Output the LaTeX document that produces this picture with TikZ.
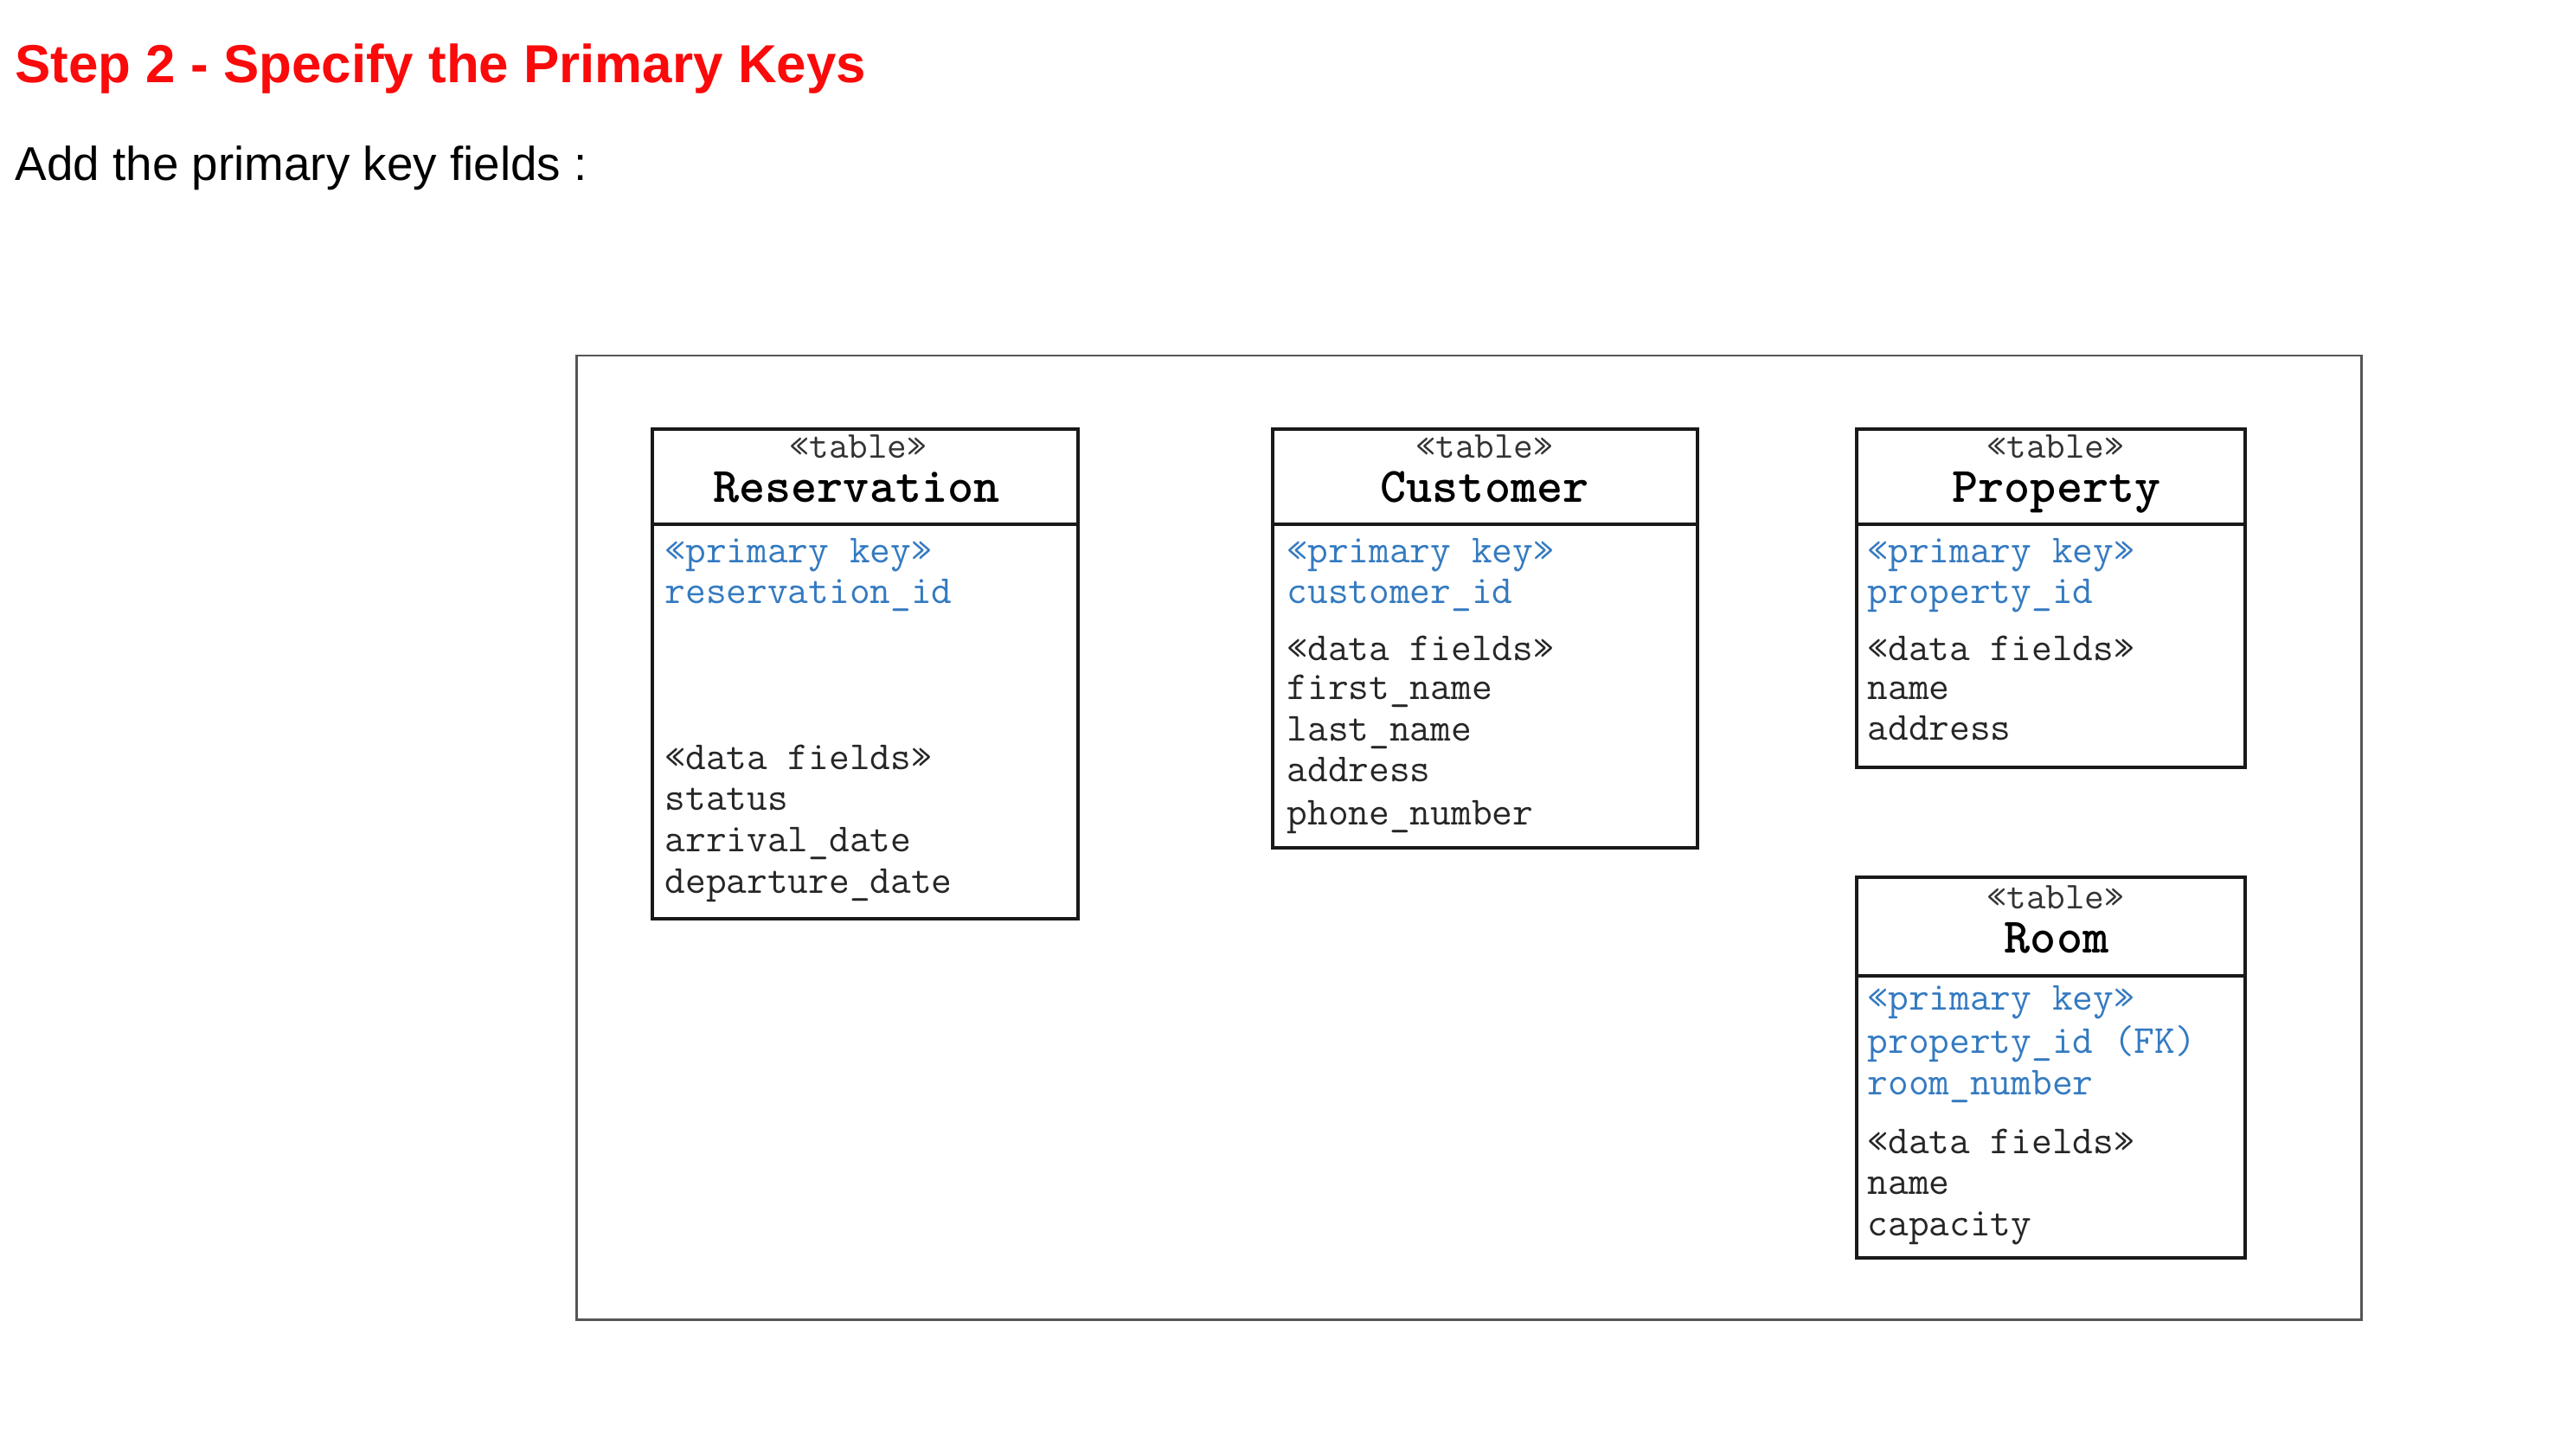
\documentclass[tikz,border=0pt]{standalone}
\usepackage{fontspec}
\setsansfont{Liberation Sans}
\usepackage{xcolor}
\usepackage{tikz}
\usetikzlibrary{positioning}

\definecolor{pkblue}{RGB}{52,122,192}
\definecolor{stepred}{RGB}{250,10,10}
\definecolor{framegray}{RGB}{85,85,85}

\begin{document}
\begin{tikzpicture}[
        tblhead/.style={rectangle, draw=black!90, line width=0.9pt, inner sep=0pt, outer sep=0pt, minimum height=1.1cm, anchor=north west},
        tblbody/.style={rectangle, draw=black!90, line width=0.9pt, inner sep=0pt, outer sep=0pt},
        stereo/.style={anchor=base, inner sep=0pt, text=black!80, font=\ttfamily\fontsize{12.5}{14}\selectfont},
        tname/.style={anchor=base, inner sep=0pt, font=\ttfamily\bfseries\fontsize{16.3}{18}\selectfont},
        pkfield/.style={anchor=base west, inner sep=0pt, text=pkblue, font=\ttfamily\fontsize{13.1}{15}\selectfont},
        datafield/.style={anchor=base west, inner sep=0pt, text=black!85, font=\ttfamily\fontsize{13.1}{15}\selectfont}]

        \useasboundingbox (0,0) rectangle (29.67,-16.83);

        \node[anchor=base west, inner sep=0pt, text=stepred, font=\sffamily\bfseries\fontsize{17.6}{20}\selectfont] (title) at (0.17,-0.96) {Step 2 - Specify the Primary Keys};
        \node[anchor=base west, inner sep=0pt, font=\sffamily\fontsize{15.6}{18}\selectfont] (intro) at (0.17,-2.09) {Add the primary key fields :};

        % outer frame
        \draw[framegray, line width=0.85pt] (6.66,-4.11) rectangle (27.29,-15.25);

        % Reservation
        \node[tblhead, minimum width=4.92cm] (res-h) at (7.54,-4.96) {};
        \node[tblbody, minimum width=4.92cm, minimum height=4.56cm, below=0pt of res-h] (res-b) {};
        \node[stereo] (res-st) at (9.92,-5.29) {«table»};
        \node[tname] (res-name) at (9.90,-5.80) {Reservation};
        \node[pkfield] (res-pk) at (7.68,-6.50) {«primary key»};
        \node[pkfield] (res-id) at (7.68,-6.97) {reservation\_id};
        \node[datafield] (res-df) at (7.68,-8.89) {«data fields»};
        \node[datafield] (res-status) at (7.68,-9.36) {status};
        \node[datafield] (res-arr) at (7.68,-9.84) {arrival\_date};
        \node[datafield] (res-dep) at (7.68,-10.32) {departure\_date};

        % Customer
        \node[tblhead, minimum width=4.91cm] (cus-h) at (14.71,-4.96) {};
        \node[tblbody, minimum width=4.91cm, minimum height=3.74cm, below=0pt of cus-h] (cus-b) {};
        \node[stereo] (cus-st) at (17.16,-5.29) {«table»};
        \node[tname] (cus-name) at (17.16,-5.80) {Customer};
        \node[pkfield] (cus-pk) at (14.87,-6.50) {«primary key»};
        \node[pkfield] (cus-id) at (14.87,-6.97) {customer\_id};
        \node[datafield] (cus-df) at (14.87,-7.63) {«data fields»};
        \node[datafield] (cus-first) at (14.87,-8.08) {first\_name};
        \node[datafield] (cus-last) at (14.87,-8.56) {last\_name};
        \node[datafield] (cus-addr) at (14.87,-9.03) {address};
        \node[datafield] (cus-phone) at (14.87,-9.53) {phone\_number};

        % Property
        \node[tblhead, minimum width=4.49cm] (pro-h) at (21.46,-4.96) {};
        \node[tblbody, minimum width=4.49cm, minimum height=2.81cm, below=0pt of pro-h] (pro-b) {};
        \node[stereo] (pro-st) at (23.76,-5.29) {«table»};
        \node[tname] (pro-name) at (23.77,-5.80) {Property};
        \node[pkfield] (pro-pk) at (21.58,-6.50) {«primary key»};
        \node[pkfield] (pro-id) at (21.58,-6.97) {property\_id};
        \node[datafield] (pro-df) at (21.58,-7.63) {«data fields»};
        \node[datafield] (pro-name2) at (21.58,-8.08) {name};
        \node[datafield] (pro-addr) at (21.58,-8.55) {address};

        % Room
        \node[tblhead, minimum width=4.49cm, minimum height=1.14cm] (room-h) at (21.46,-10.14) {};
        \node[tblbody, minimum width=4.49cm, minimum height=3.26cm, below=0pt of room-h] (room-b) {};
        \node[stereo] (room-st) at (23.76,-10.50) {«table»};
        \node[tname] (room-name) at (23.77,-11.01) {Room};
        \node[pkfield] (room-pk) at (21.58,-11.67) {«primary key»};
        \node[pkfield] (room-fk) at (21.58,-12.17) {property\_id (FK)};
        \node[pkfield] (room-no) at (21.58,-12.65) {room\_number};
        \node[datafield] (room-df) at (21.58,-13.33) {«data fields»};
        \node[datafield] (room-name2) at (21.58,-13.80) {name};
        \node[datafield] (room-cap) at (21.58,-14.28) {capacity};
\end{tikzpicture}
\end{document}
